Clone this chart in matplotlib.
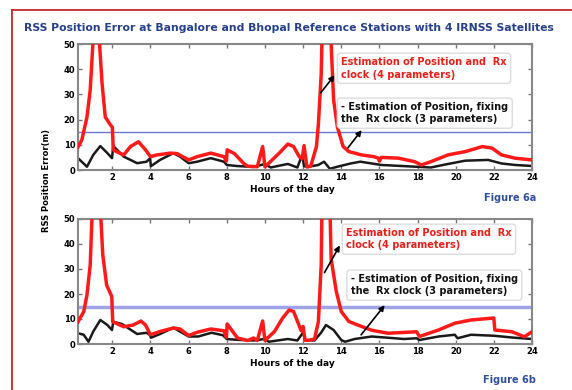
import matplotlib
matplotlib.use("Agg")
import matplotlib.pyplot as plt
from matplotlib.lines import Line2D

plt.rcParams['font.family'] = ['DejaVu Sans']
plt.rcParams['font.weight'] = 'bold'

# Figure 6a - Bangalore
hours_a_red = [0.2, 0.4, 0.67, 0.84, 0.98, 1.15, 1.33, 1.46, 1.63, 1.9, 2.0, 2.05, 2.3, 2.6, 2.95, 3.37,
               3.74, 4.0, 4.35, 5.05, 5.4, 6.0, 6.45, 7.16, 7.85, 7.98, 8.02, 8.4, 8.9, 9.1, 9.6, 9.88,
               10.0, 10.2, 10.75, 11.2, 11.5, 11.8, 11.95, 12.05, 12.2, 12.4, 12.7, 12.8, 12.95, 13.1,
               13.35, 13.47, 13.6, 13.8, 14.1, 14.4, 15.05, 15.7, 15.95, 16.0, 16.1, 17.0, 17.85, 18.2,
               18.7, 19.6, 20.5, 21.4, 21.9, 22.4, 23.1, 24.0]
err_a_red = [9.1, 11.9, 21, 31.7, 50, 80, 50, 34.5, 21, 17.9, 17, 8, 7, 6, 9.3, 11.2,
             8, 5.3, 6, 6.7, 6.5, 4, 5.3, 6.7, 5.3, 3.5, 8, 6.5, 2.5, 1.5, 1.3, 9.3,
             1.3, 2.7, 6.7, 10.3, 9.3, 5.3, 4.5, 9.7, 1.2, 1.5, 9.3, 18, 38, 90,
             90, 50, 27.8, 17, 9.3, 7.3, 6, 5.3, 4.7, 3.5, 5, 4.7, 3.3, 2,
             3.3, 6, 7.3, 9.3, 8.7, 6, 4.7, 4]

hours_a_blk = [0.2, 0.67, 1.0, 1.37, 1.74, 1.98, 2.05, 2.6, 3.3, 3.8, 3.98, 4.02, 4.5, 5.2, 5.55, 6.0,
               6.45, 7.16, 7.85, 8.0, 8.5, 9.4, 10.0, 10.3, 11.2, 11.7, 11.95, 12.05, 12.3, 12.8, 13.1,
               13.4, 13.8, 14.5, 15.0, 16.1, 17.9, 18.7, 19.6, 20.5, 21.7, 22.4, 23.1, 24.0]
err_a_blk = [4.7, 1.3, 6, 9.5, 6.7, 4.7, 9.5, 5.3, 2.7, 3.3, 4.7, 1.5, 4, 6.7, 5.3, 2.7,
             3.3, 4.7, 3.3, 2, 1.6, 1.2, 2.4, 1, 2.4, 1, 6, 1.5, 1.3, 2, 3.3,
             0.5, 1.3, 2.6, 3.3, 2, 1.3, 1, 2.4, 3.7, 4, 2.6, 2, 1.6]

# Figure 6b - Bhopal
hours_b_red = [0.2, 0.5, 0.67, 0.84, 0.93, 1.15, 1.4, 1.5, 1.7, 1.97, 2.02, 2.6, 3.1, 3.5, 3.74, 4.0,
               4.5, 5.2, 5.55, 6.0, 6.45, 7.16, 7.85, 7.98, 8.02, 8.56, 9.1, 9.4, 9.6, 9.88, 10.0,
               10.5, 10.93, 11.27, 11.5, 11.9, 12.0, 12.1, 12.3, 12.6, 12.8, 12.95, 13.05, 13.3,
               13.47, 13.74, 14.0, 14.4, 15.0, 15.6, 16.45, 17.95, 18.1, 19.1, 19.95, 20.8, 22.0,
               22.05, 22.95, 23.6, 24.0]
err_b_red = [8.9, 12.9, 19.6, 31.6, 50, 80, 50, 35.6, 23.6, 19, 8.9, 6.9, 7.6, 9.2, 7.6, 3.7,
             5, 6.4, 6, 3.4, 4.7, 6, 5.3, 2.7, 8, 2.4, 1.4, 2.4, 1.4, 9.2, 1.4,
             5, 10.4, 13.6, 13, 5.3, 7, 1.5, 1.5, 2, 8.9, 31.6, 90, 90,
             34, 21, 13, 9, 7.2, 5.5, 4.3, 4.9, 3, 5.6, 8.3, 9.6, 10.4,
             5.6, 4.9, 2.9, 4.9]

hours_b_blk = [0.2, 0.5, 0.75, 1.0, 1.37, 1.74, 1.98, 2.05, 2.5, 3.3, 3.8, 3.98, 4.02, 4.5, 5.2, 6.0,
               6.5, 7.2, 7.8, 8.0, 8.5, 9.4, 10.0, 10.2, 11.2, 11.7, 12.0, 12.1, 12.6, 12.95, 13.2,
               13.6, 14.0, 14.2, 14.7, 15.6, 17.3, 17.95, 18.1, 19.1, 19.95, 20.1, 20.8, 22.0, 22.95, 24.0]
err_b_blk = [4.3, 3.7, 0.9, 5, 9.6, 7.6, 5.6, 8.9, 8, 4, 4.5, 3.5, 2.5, 4, 6.5, 3,
             3, 4.5, 3.5, 2, 1.7, 1.4, 2, 0.9, 2, 1.4, 4.6, 1.6, 1.4, 4.6, 7.6,
             5.6, 1.6, 0.9, 2, 3, 2, 2.3, 1.6, 3, 3.7, 2.3, 3.7, 3.3, 2.6, 2]

threshold = 15
xticks = list(range(2, 25, 2))
yticks = [0, 10, 20, 30, 40, 50]
label_4p = "Estimation of Position and  Rx\nclock (4 parameters)"
label_3p = "- Estimation of Position, fixing\nthe  Rx clock (3 parameters)"

fig = plt.figure(figsize=(5.72, 3.9), dpi=100)
W, H = 572, 390

# red frame around the figure
fig.add_artist(Line2D([12 / W, 12 / W], [0, 1 - 10 / H], color="#c0282d", lw=1.3))
fig.add_artist(Line2D([12 / W, 1], [1 - 10 / H, 1 - 10 / H], color="#c0282d", lw=1.3))

fig.text(289 / W, 1 - 28 / H,
         "RSS Position Error at Bangalore and Bhopal Reference Stations with 4 IRNSS Satellites",
         ha="center", va="center", color="#27408b", fontsize=7.8, fontweight="bold")

panels = [
    (hours_a_red, err_a_red, hours_a_blk, err_a_blk, [78, 44, 532, 170], "#6a78d0", 1.0,
     (14.0, 44.8), (14.0, 27.0), ((13.74, 38.5), (12.84, 29.8)), ((15.16, 16.7), (14.26, 7.9)),
     "Figure 6a", 198, 189),
    (hours_b_red, err_b_red, hours_b_blk, err_b_blk, [78, 219, 532, 344], "#9ea4e6", 2.5,
     (14.26, 46.4), (14.5, 28.0), ((14.0, 40.4), (13.05, 27.6)), ((16.37, 16.4), (14.95, 2.8)),
     "Figure 6b", 380, 363),
]

for (hr, er, hb, eb, box, tcol, tlw, t1, t2, a1, a2, figlab, figy, xly) in panels:
    x0, y0, x1, y1 = box
    ax = fig.add_axes([x0 / W, 1 - y1 / H, (x1 - x0) / W, (y1 - y0) / H])
    ax.axhline(threshold, color=tcol, lw=tlw, zorder=1)
    ax.plot(hr, er, color="#ff1a1a", lw=2.5, zorder=3)
    ax.plot(hb, eb, color="#1a1a1a", lw=1.8, zorder=2)
    ax.set_xlim(0.2, 24)
    ax.set_ylim(0, 50)
    ax.set_xticks(xticks)
    ax.set_yticks(yticks)
    ax.tick_params(direction="in", length=3, width=1, color="#777777", labelsize=6,
                   top=True, right=True, pad=2)
    for lab in ax.get_xticklabels() + ax.get_yticklabels():
        lab.set_fontweight("bold")
    for sp in ax.spines.values():
        sp.set_color("#888888")
        sp.set_linewidth(1.5)

    bb = dict(boxstyle="round,pad=0.4,rounding_size=0.3", fc="white", ec="#dddddd", lw=1)
    ax.text(t1[0], t1[1], label_4p, color="#e8201a", fontsize=7, fontweight="bold",
            va="top", ha="left", bbox=bb, zorder=5, linespacing=1.3)
    ax.text(t2[0], t2[1], label_3p, color="#111111", fontsize=7, fontweight="bold",
            va="top", ha="left", bbox=bb, zorder=5, linespacing=1.3)
    for head, tail in (a1, a2):
        ax.annotate("", xy=head, xytext=tail,
                    arrowprops=dict(arrowstyle="-|>", color="black", lw=1.2,
                                    mutation_scale=8), zorder=6)

    fig.text(292 / W, 1 - xly / H, "Hours of the day", ha="center", va="center",
             fontsize=6.5, fontweight="bold")
    fig.text(536 / W, 1 - figy / H, figlab, ha="right", va="center", color="#2f4fa0",
             fontsize=7, fontweight="bold")

fig.text(47 / W, 1 - 181 / H, "RSS Position Error(m)", rotation=90, ha="center", va="center",
         fontsize=6, fontweight="bold")

fig.savefig("out.png", dpi=100)
